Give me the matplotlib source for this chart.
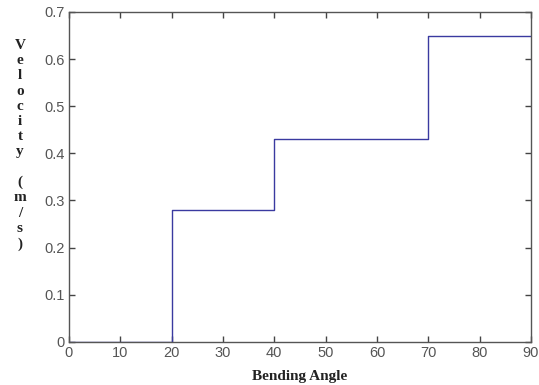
import matplotlib
matplotlib.use('Agg')
import matplotlib.pyplot as plt

# bending angle (deg) at each step edge, velocity (m/s) from that edge onward
angles = [0, 20, 40, 70, 90]
velocity = [0, 0.28, 0.43, 0.65, 0.65]
xticks = [0, 10, 20, 30, 40, 50, 60, 70, 80, 90]
yticks = [0, 0.1, 0.2, 0.3, 0.4, 0.5, 0.6, 0.7]
ylabel_chars = ['V', 'e', 'l', 'o', 'c', 'i', 't', 'y', ' ', '(', 'm', '/', 's', ')']

fig = plt.figure(figsize=(5.39, 3.85), dpi=100)
ax = fig.add_axes([0.128, 0.112, 0.857, 0.857])

ax.step(angles, velocity, where='post', color='#3a3aa0', lw=1.0)

ax.set_xlim(0, 90)
ax.set_ylim(0, 0.7)
ax.set_xticks(xticks)
ax.set_yticks(yticks)
ax.set_xticklabels([str(t) for t in xticks])
ax.set_yticklabels(['0'] + ['%.1f' % t for t in yticks[1:]])
ax.tick_params(direction='in', length=4, width=1, top=True, right=True,
               labelsize=10.5, labelcolor='#555555', color='#444444', pad=3)
for lbl in ax.get_xticklabels() + ax.get_yticklabels():
    lbl.set_family('Liberation Sans')
for s in ax.spines.values():
    s.set_color('#555555')
    s.set_linewidth(1.0)

ax.set_xlabel('Bending Angle', family='Liberation Serif', fontweight='bold',
              fontsize=11, color='#222222', labelpad=7)

# vertical stacked y-label, one character per line
fig.text(0.037, 0.624, "\n".join(ylabel_chars),
         family='Liberation Serif', fontweight='bold', fontsize=11,
         color='#222222', ha='center', va='center', linespacing=1.22)

fig.savefig('out.png', dpi=100)
